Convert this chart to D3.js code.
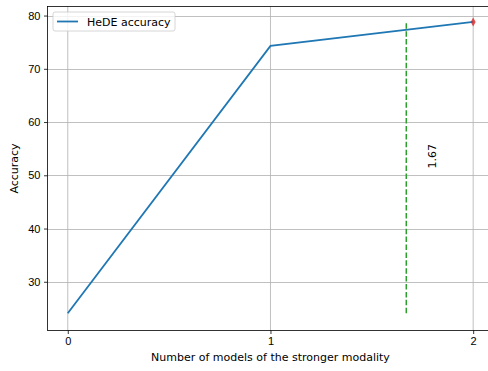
<!DOCTYPE html>
<html>
<head>
<meta charset="utf-8">
<script src="https://cdn.jsdelivr.net/npm/d3@7"></script>
<style>
  body { margin: 0; background: #fff; }
  svg { font-family: "DejaVu Sans", sans-serif; }
  .tick text { font-size: 11px; fill: #000; }
</style>
</head>
<body>
<div id="chart"></div>
<script>
// chart values
var xValues = [0, 1, 2];
var accuracy = [24.1, 74.3, 78.8];
var xTicks = [0, 1, 2];
var yTicks = [30, 40, 50, 60, 70, 80];
var seriesName = "HeDE accuracy";
var markLine = 1.67;
var markLabel = "1.67";

function drawChart(){

    var width = 488,
        height = 371;

    //plot area in pixels
    var left = 47.5, top = 6.5, bottom = 330.5;

    var svg = d3.select("#chart")
        .append("svg")
        .attr("width", width)
        .attr("height", height);

    var x = d3.scaleLinear()
        .domain([-0.1, 2.1])
        .range([left, left + 2.2 * 202.7]);

    var y = d3.scaleLinear()
        .domain([20.85, 81.7])
        .range([bottom, top]);

    //grid lines
    var grid = svg.append("g");
    grid.selectAll(".gx")
        .data(xTicks)
        .enter()
        .append("line")
        .attr("x1", function(d){ return x(d); })
        .attr("x2", function(d){ return x(d); })
        .attr("y1", top)
        .attr("y2", bottom)
        .attr("stroke", "#b0b0b0")
        .attr("stroke-width", 0.8);
    grid.selectAll(".gy")
        .data(yTicks)
        .enter()
        .append("line")
        .attr("x1", left)
        .attr("x2", width)
        .attr("y1", function(d){ return Math.round(y(d)) + 0.5; })
        .attr("y2", function(d){ return Math.round(y(d)) + 0.5; })
        .attr("stroke", "#b0b0b0")
        .attr("stroke-width", 0.8);

    //main line
    var line = d3.line()
        .x(function(d, i){ return x(xValues[i]); })
        .y(function(d){ return y(d); });

    svg.append("path")
        .datum(accuracy)
        .attr("d", line)
        .attr("fill", "none")
        .attr("stroke", "#1f77b4")
        .attr("stroke-width", 1.8);

    //vertical dashed marker line, from min to max of the series
    var ext = d3.extent(accuracy);
    svg.append("line")
        .attr("x1", x(markLine))
        .attr("x2", x(markLine))
        .attr("y1", y(ext[0]))
        .attr("y2", y(ext[1]))
        .attr("stroke", "#2ca02c")
        .attr("stroke-width", 1.5)
        .attr("stroke-dasharray", "5.5,2.4");

    //label next to it
    svg.append("text")
        .attr("transform", "translate(" + (x(markLine + 0.1) + 9) + "," + (y((ext[0] + ext[1]) / 2) + 1) + ") rotate(-90)")
        .attr("font-size", 11)
        .attr("text-anchor", "start")
        .text(markLabel);

    //red diamond on the last point
    var last = accuracy.length - 1;
    svg.append("path")
        .attr("d", "M0,-4.5L2.5,0L0,4.5L-2.5,0Z")
        .attr("transform", "translate(" + x(xValues[last]) + "," + y(accuracy[last]) + ")")
        .attr("fill", "#d62728")
        .attr("fill-opacity", 0.8);

    //axes
    var xAxis = d3.axisBottom(x)
        .tickValues(xTicks)
        .tickFormat(d3.format("d"))
        .tickSize(3.5)
        .tickPadding(3.5);
    var gx = svg.append("g")
        .attr("transform", "translate(0," + bottom + ")")
        .call(xAxis);

    var yAxis = d3.axisLeft(y)
        .tickValues(yTicks)
        .tickSize(3.5)
        .tickPadding(3.5);
    var gy = svg.append("g")
        .attr("transform", "translate(" + left + ",0)")
        .call(yAxis);

    gx.select(".domain").remove();
    gy.select(".domain").remove();
    svg.selectAll(".tick line").attr("stroke", "#000").attr("stroke-width", 0.8);

    //frame
    svg.append("rect")
        .attr("x", left)
        .attr("y", top)
        .attr("width", width + 10 - left)
        .attr("height", bottom - top)
        .attr("fill", "none")
        .attr("stroke", "#000")
        .attr("stroke-width", 0.8);

    //axis labels
    svg.append("text")
        .attr("x", x(1))
        .attr("y", 361)
        .attr("text-anchor", "middle")
        .attr("font-size", 11)
        .text("Number of models of the stronger modality");

    svg.append("text")
        .attr("transform", "translate(18," + ((top + bottom) / 2) + ") rotate(-90)")
        .attr("text-anchor", "middle")
        .attr("font-size", 11)
        .text("Accuracy");

    //legend
    var lg = svg.append("g").attr("transform", "translate(53,12)");
    lg.append("rect")
        .attr("width", 122)
        .attr("height", 19)
        .attr("rx", 2)
        .attr("fill", "#fff")
        .attr("fill-opacity", 0.8)
        .attr("stroke", "#cccccc")
        .attr("stroke-width", 0.8);
    lg.append("line")
        .attr("x1", 4)
        .attr("x2", 25)
        .attr("y1", 9.5)
        .attr("y2", 9.5)
        .attr("stroke", "#1f77b4")
        .attr("stroke-width", 1.8);
    lg.append("text")
        .attr("x", 34)
        .attr("y", 13.5)
        .attr("font-size", 11)
        .text(seriesName);
}

drawChart();
</script>
</body>
</html>
